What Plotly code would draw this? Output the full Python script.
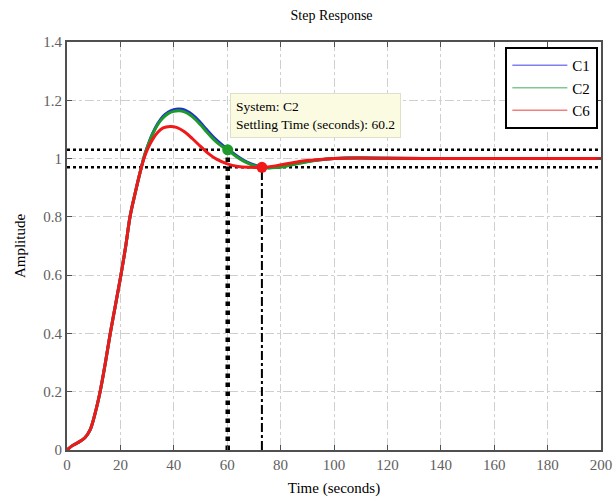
import plotly.graph_objects as go

# Time samples and amplitudes
t_c12 = [0, 2, 4, 6.7, 8.6, 10.5, 12.4, 14.3, 16.2, 18, 20, 22, 23.6, 25.5, 27.3, 29, 30.3, 32, 34, 36, 38, 40, 42, 44, 46, 48, 50, 52, 55, 58, 60.2, 63, 66, 69, 72, 75, 78, 82, 86, 90, 95, 100, 105, 110, 120, 134]
c1 = [0, 0.015, 0.025, 0.042, 0.068, 0.125, 0.2, 0.295, 0.40, 0.49, 0.59, 0.70, 0.80, 0.88, 0.95, 1.01, 1.045, 1.085, 1.12, 1.145, 1.16, 1.168, 1.170, 1.167, 1.157, 1.142, 1.123, 1.102, 1.072, 1.048, 1.033, 1.013, 0.995, 0.982, 0.973, 0.969, 0.970, 0.975, 0.983, 0.990, 0.996, 1.000, 1.002, 1.002, 1.001, 1.0]
c2 = [0, 0.015, 0.025, 0.042, 0.068, 0.125, 0.2, 0.295, 0.40, 0.49, 0.59, 0.70, 0.80, 0.88, 0.95, 1.01, 1.045, 1.083, 1.117, 1.14, 1.155, 1.162, 1.164, 1.160, 1.150, 1.135, 1.116, 1.095, 1.065, 1.042, 1.030, 1.010, 0.992, 0.979, 0.971, 0.968, 0.969, 0.974, 0.982, 0.989, 0.996, 1.000, 1.002, 1.002, 1.001, 1.0]
t_c6 = [0, 2, 4, 6.7, 8.6, 10.5, 12.4, 14.3, 16.2, 18, 20, 22, 23.6, 25.5, 27.3, 29, 30.3, 32, 34, 36, 38.6, 41, 44, 47, 50, 53, 56, 60, 64, 68, 73, 78, 84, 90, 100, 110, 120, 140, 160, 180, 200]
c6 = [0, 0.015, 0.025, 0.042, 0.068, 0.125, 0.2, 0.295, 0.40, 0.49, 0.59, 0.70, 0.80, 0.88, 0.95, 1.005, 1.035, 1.065, 1.09, 1.105, 1.11, 1.107, 1.092, 1.068, 1.042, 1.017, 0.998, 0.982, 0.973, 0.970, 0.970, 0.975, 0.985, 0.993, 1.0, 1.002, 1.001, 1.0, 1.0, 1.0, 1.0]

series_names = ["C1", "C2", "C6"]
series_colors = ["#1f2fd0", "#1e9a2a", "#f01818"]
legend_colors = ["#8080f0", "#80c890", "#f08080"]

settle_t = [60.2, 73]
settle_y = [1.03, 0.97]
band = [1.03, 0.97]
x_range = [0, 200]
y_range = [0, 1.4]
x_ticks = [0, 20, 40, 60, 80, 100, 120, 140, 160, 180, 200]
y_ticks = [0, 0.2, 0.4, 0.6, 0.8, 1, 1.2, 1.4]
y_tick_text = ["0", "0.2", "0.4", "0.6", "0.8", "1", "1.2", "1.4"]

FONT = "Liberation Serif"

fig = go.Figure()

# settling band lines
for b in band:
    fig.add_trace(go.Scatter(x=x_range, y=[b, b], mode="lines", showlegend=False,
                             line=dict(color="black", width=2.5, dash="dot"), hoverinfo="skip"))
# vertical settling markers
fig.add_trace(go.Scatter(x=[settle_t[0], settle_t[0]], y=[0, settle_y[0]], mode="lines", showlegend=False,
                         line=dict(color="black", width=4.5, dash="dot"), hoverinfo="skip"))
fig.add_trace(go.Scatter(x=[settle_t[1], settle_t[1]], y=[0, settle_y[1]], mode="lines", showlegend=False,
                         line=dict(color="black", width=2, dash="dashdot"), hoverinfo="skip"))

for tt, yy, nm, col in zip([t_c12, t_c12, t_c6], [c1, c2, c6], series_names, series_colors):
    fig.add_trace(go.Scatter(x=tt, y=yy, mode="lines", name=nm, showlegend=False, legendgroup=nm,
                             line=dict(color=col, width=3, shape="spline")))

# legend entries (thin, pale samples as in the reference)
for nm, lc in zip(series_names, legend_colors):
    fig.add_trace(go.Scatter(x=[None], y=[None], mode="lines", name=nm, legendgroup=nm,
                             line=dict(color=lc, width=1.5)))

fig.add_trace(go.Scatter(x=[settle_t[0]], y=[settle_y[0]], mode="markers", showlegend=False,
                         marker=dict(color="#1e9a2a", size=11)))
fig.add_trace(go.Scatter(x=[settle_t[1]], y=[settle_y[1]], mode="markers", showlegend=False,
                         marker=dict(color="#f01818", size=11)))

fig.add_annotation(x=61, y=1.225, xref="x", yref="y", xanchor="left", yanchor="top",
                   text="System: C2<br>Settling Time (seconds): 60.2", align="left",
                   showarrow=False, bgcolor="#fbfbe2", bordercolor="#e0e0c8", borderwidth=1,
                   borderpad=5, font=dict(family=FONT, size=13.5, color="black"))

axis_common = dict(showline=True, linecolor="#505050", linewidth=2, mirror="ticks",
                   ticks="inside", ticklen=5, tickcolor="#505050",
                   showgrid=True, gridcolor="#cfcfcf", griddash="dashdot", gridwidth=1,
                   zeroline=False, automargin=False,
                   tickfont=dict(family=FONT, size=15, color="#606060"))

fig.update_xaxes(range=x_range, tickvals=x_ticks, **axis_common,
                 title=dict(text="Time (seconds)", font=dict(family=FONT, size=15, color="black"), standoff=10))
fig.update_yaxes(range=y_range, tickvals=y_ticks, ticktext=y_tick_text, **axis_common,
                 title=dict(text="Amplitude", font=dict(family=FONT, size=15, color="black"), standoff=14))

fig.update_layout(
    width=614, height=497,
    margin=dict(l=67, r=13, t=42, b=47),
    paper_bgcolor="white", plot_bgcolor="white",
    title=dict(text="Step Response", x=0.54, xanchor="center", y=0.98, yanchor="top",
               font=dict(family=FONT, size=14, color="black")),
    legend=dict(x=0.995, y=0.988, xanchor="right", yanchor="top",
                bgcolor="white", bordercolor="black", borderwidth=2,
                font=dict(family=FONT, size=15, color="black"),
                itemwidth=55, tracegroupgap=0),
    font=dict(family=FONT),
)

fig.write_html("out.html")
